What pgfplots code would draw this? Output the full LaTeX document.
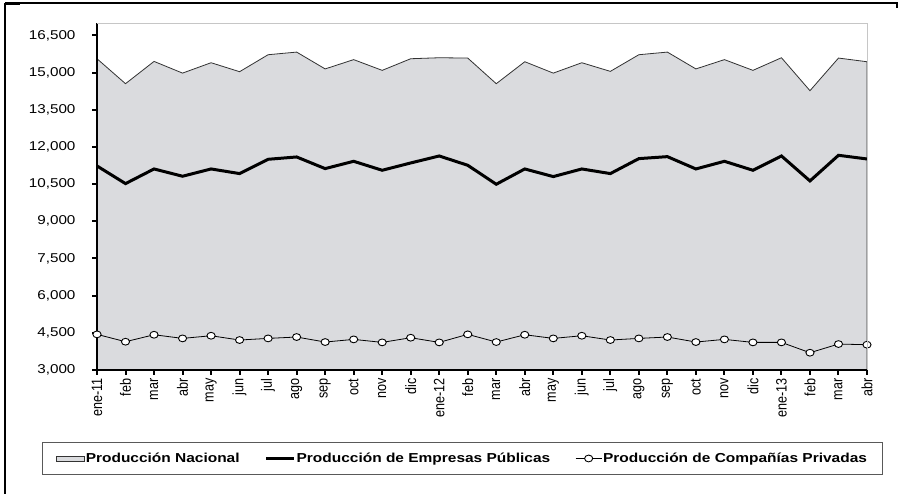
\documentclass[border=0pt]{standalone}
\usepackage{pgfplots}
\pgfplotsset{compat=1.18}
\usepackage{pgfplotstable}
\usepackage{fontspec}
\setmainfont{Liberation Sans}
\newfontfamily\yfontfam{Liberation Sans}[FakeStretch=1.19]
\newfontfamily\xfontfam{Liberation Sans}[FakeStretch=0.84]
\newfontfamily\legfontfam{Liberation Sans}[FakeStretch=1.19]
\definecolor{areafill}{RGB}{218,219,222}
\definecolor{arealine}{RGB}{50,50,50}

\pgfplotsset{
  arealeg/.style={legend image code/.code={\draw[fill=areafill, draw=gray!40!black, line width=0.8pt] (0pt,-2.5pt) rectangle (28pt,2.5pt);}},
  lineleg/.style={legend image code/.code={\draw[##1] (0pt,0pt) -- (28pt,0pt);}},
  markleg/.style={legend image code/.code={\draw[##1, mark repeat=2, mark phase=2] plot coordinates {(0pt,0pt) (13pt,0pt) (26pt,0pt)};}},
}

\pgfplotstableread{
x nac pub priv
0 15558 11232 4438
1 14551 10520 4141
2 15450 11111 4422
3 14978 10817 4275
4 15397 11111 4382
5 15035 10924 4209
6 15720 11501 4275
7 15826 11595 4330
8 15147 11125 4128
9 15522 11420 4235
10 15089 11058 4114
11 15558 11353 4302
12 15598 11635 4114
13 15585 11259 4438
14 14551 10494 4128
15 15437 11111 4422
16 14978 10803 4275
17 15397 11111 4382
18 15048 10924 4209
19 15720 11528 4275
20 15826 11608 4330
21 15147 11111 4128
22 15522 11420 4235
23 15089 11058 4114
24 15598 11635 4114
25 14269 10628 3697
26 15585 11662 4047
27 15437 11514 4020
}\datatable

\begin{document}
\begin{tikzpicture}[x=1pt,y=1pt]
\useasboundingbox (0,0) rectangle (899,494);
% outer frame
\draw[line width=2pt] (5,0) -- (5,491);
\draw[line width=1.3pt] (5,491) -- (897,491) -- (897,486);
\draw[line width=3pt] (5,490.5) -- (20,490.5);
\begin{axis}[
  at={(97pt,124pt)}, anchor=south west,
  scale only axis, width=770pt, height=347pt,
  xmin=0, xmax=27, ymin=3000, ymax=17000,
  axis lines=left,
  axis line style={-, line width=2.2pt, black},
  axis on top,
  xtick={0,...,27},
  xticklabels={ene-11,feb,mar,abr,may,jun,jul,ago,sep,oct,nov,dic,ene-12,feb,mar,abr,may,jun,jul,ago,sep,oct,nov,dic,ene-13,feb,mar,abr},
  ytick={3000,4500,...,16500},
  scaled y ticks=false,
  tick align=outside,
  major tick length=5pt,
  every tick/.style={black, line width=2pt},
  /pgf/number format/fixed,
  /pgf/number format/1000 sep={,},
  /pgf/number format/assume math mode=true,
  yticklabel style={font=\yfontfam\fontsize{12.8}{14}\selectfont, xshift=-13pt},
  xticklabel style={rotate=90, anchor=east, font=\xfontfam\fontsize{15}{16}\selectfont, yshift=0pt},
  after end axis/.code={
    \draw[gray!45, line width=0.8pt] (rel axis cs:0,1) -- (rel axis cs:1,1) -- (rel axis cs:1,0);
  },
  legend style={
    at={(0.474,-0.255)}, anchor=center,
    draw=gray!70!black, line width=0.8pt,
    legend columns=3,
    font=\legfontfam\bfseries\fontsize{13}{14}\selectfont,
    inner xsep=14pt, inner ysep=8.5pt,
    /tikz/every even column/.append style={column sep=24pt},
    nodes={inner xsep=1pt, inner ysep=2pt},
  },
  legend cell align=left,
]
\addplot[fill=areafill, draw=arealine, line width=0.8pt, arealeg]
  table[x=x, y=nac] {\datatable} \closedcycle;
\addlegendentry{Producción Nacional}
\addplot[black, line width=3pt, lineleg]
  table[x=x, y=pub] {\datatable};
\addlegendentry{Producción de Empresas Públicas}
\addplot[black, line width=0.8pt, mark=*, mark size=3.4pt,
  mark options={fill=white, draw=black, line width=0.9pt, xscale=1.2}, markleg]
  table[x=x, y=priv] {\datatable};
\addlegendentry{Producción de Compañías Privadas}
\end{axis}
\end{tikzpicture}
\end{document}
